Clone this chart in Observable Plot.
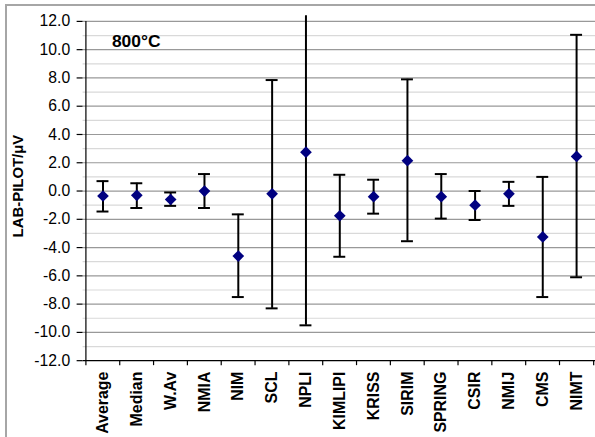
<!DOCTYPE html>
<html><head><meta charset="utf-8">
<script src="https://cdn.jsdelivr.net/npm/d3@7"></script>
<script src="https://cdn.jsdelivr.net/npm/@observablehq/plot@0.6"></script>
<style>
html,body{margin:0;padding:0;background:#fff;overflow:hidden;}
#wrap{position:relative;width:595px;height:437px;overflow:hidden;background:#fff;}
#frame{position:absolute;left:5px;top:4px;width:700px;height:500px;border-left:2px solid #a6a6a6;border-top:2px solid #a6a6a6;pointer-events:none;}
#chart{position:absolute;left:0;top:0;}
</style></head>
<body>
<div id="wrap"><div id="frame"></div><div id="chart"></div></div>
<script>
const names = ["Average","Median","W.Av","NMIA","NIM","SCL","NPLI","KIMLIPI","KRISS","SIRIM","SPRING","CSIR","NMIJ","CMS","NIMT"];
const values = [-0.35,-0.3,-0.6,0.0,-4.6,-0.2,2.75,-1.75,-0.4,2.15,-0.4,-1.0,-0.2,-3.25,2.45];
const lows   = [-1.45,-1.2,-1.05,-1.2,-7.5,-8.3,-9.5,-4.65,-1.6,-3.55,-1.95,-2.05,-1.05,-7.5,-6.1];
const highs  = [0.7,0.55,-0.1,1.2,-1.65,7.85,15.0,1.15,0.8,7.9,1.2,0.0,0.65,1.0,11.05];
const yTicksMajor = [-12,-10,-8,-6,-4,-2,0,2,4,6,8,10,12];
const yTicksMinor = [-11,-9,-7,-5,-3,-1,1,3,5,7,9,11];
const yMin = -12, yMax = 12, clipTop = 12.4;

const data = names.map((n,i)=>({name:n, v:values[i], lo:lows[i], hi:highs[i]}));

const width = 598, marginLeft = 83, marginRight = 0;
const band = (width - marginLeft - marginRight) / names.length;
const font = '"Liberation Sans", Arial, sans-serif';

const chart = Plot.plot({
  width, height: 437,
  marginLeft, marginRight, marginTop: 21, marginBottom: 75,
  style: {fontFamily: font, fontSize: "15.5px", color: "#000", background: "transparent", overflow: "visible"},
  x: {type: "band", domain: names, padding: 0, axis: null},
  y: {domain: [yMin, yMax], axis: null},
  marks: [
    Plot.ruleY(yTicksMinor, {stroke: "#d9d9d9", strokeWidth: 1.2}),
    Plot.ruleY(yTicksMajor.filter(d => d !== yMin), {stroke: "#999", strokeWidth: 1.2}),
    Plot.ruleY([yMin], {stroke: "#000", strokeWidth: 1.2}),
    Plot.ruleX([names[0]], {dx: -band/2, stroke: "#000", strokeWidth: 1.2}),
    Plot.axisY({ticks: yTicksMajor, tickFormat: d => d.toFixed(1), tickSize: 6, tickPadding: 7, label: null, strokeWidth: 1.2, fontSize: 15.8}),
    Plot.axisX({tickSize: 5, tickFormat: () => "", dx: -band/2, label: null, strokeWidth: 1.2}),
    Plot.axisX([names[names.length-1]], {tickSize: 5, tickFormat: () => "", dx: band/2, label: null, strokeWidth: 1.2}),
    Plot.axisX({tickSize: 0, tickRotate: -90, tickPadding: 11, fontWeight: "bold", fontSize: 16, label: null}),
    Plot.ruleX(data, {x: "name", y1: "lo", y2: d => Math.min(d.hi, clipTop), stroke: "#000", strokeWidth: 2}),
    Plot.tickY(data, {x: "name", y: "lo", inset: 11, stroke: "#000", strokeWidth: 2}),
    Plot.tickY(data.filter(d => d.hi <= yMax), {x: "name", y: "hi", inset: 11, stroke: "#000", strokeWidth: 2}),
    Plot.dot(data, {x: "name", y: "v", symbol: "diamond2", r: 5.3, fill: "#000080", stroke: null}),
    Plot.text(["800°C"], {frameAnchor: "top-left", dx: 29, dy: 13, textAnchor: "start", lineAnchor: "top", fontWeight: "bold", fontSize: 17.5}),
    Plot.text(["LAB-PILOT/μV"], {frameAnchor: "left", dx: -65, dy: -5, rotate: -90, textAnchor: "middle", lineAnchor: "middle", fontWeight: "bold", fontSize: 15})
  ]
});
document.getElementById("chart").appendChild(chart);
</script>
</body></html>
